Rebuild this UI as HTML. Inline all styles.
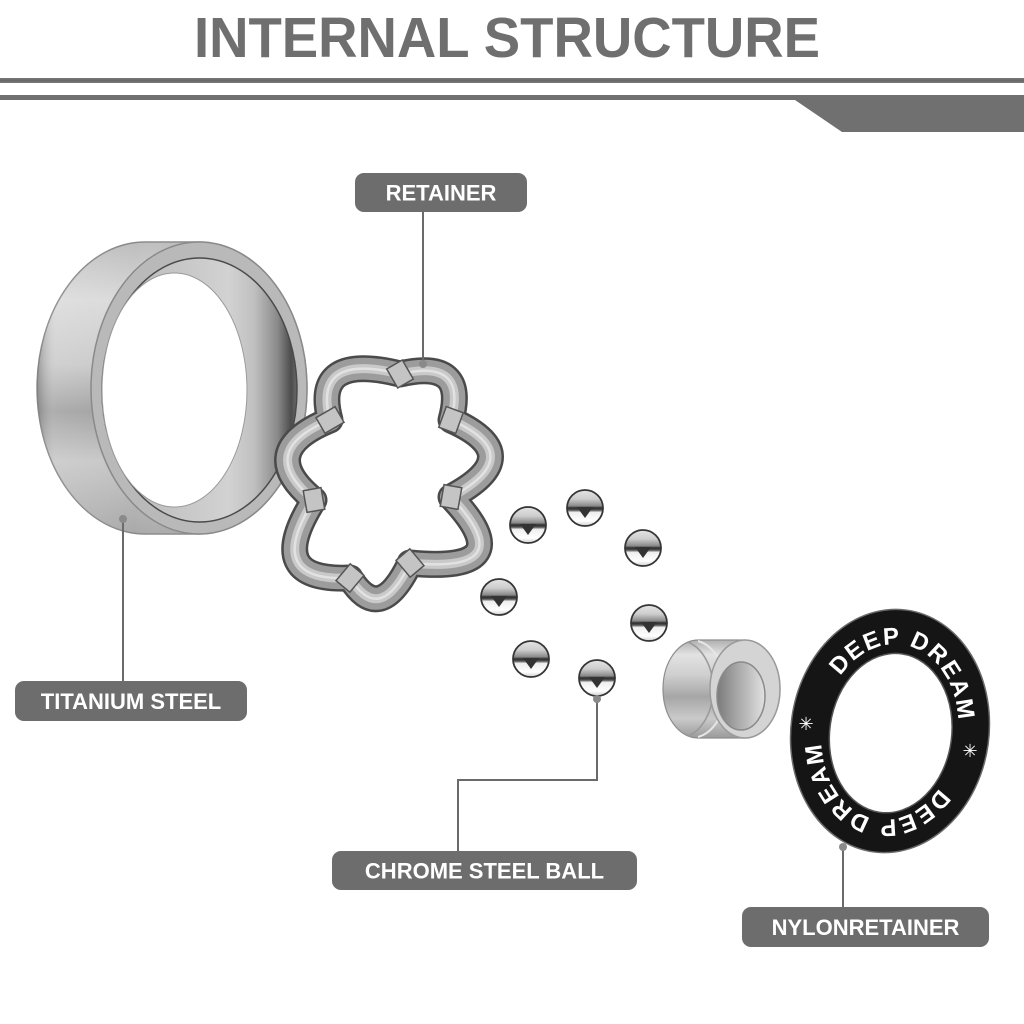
<!DOCTYPE html>
<html><head><meta charset="utf-8"><style>
html,body{margin:0;padding:0;background:#fff;}
svg{display:block;}
</style></head><body>
<svg width="1024" height="1024" viewBox="0 0 1024 1024" xmlns="http://www.w3.org/2000/svg">
<defs>
<linearGradient id="band" x1="0" y1="0" x2="0" y2="1">
<stop offset="0" stop-color="#bdbdbd"/><stop offset="0.2" stop-color="#dadada"/><stop offset="0.42" stop-color="#c8c8c8"/><stop offset="0.58" stop-color="#9e9e9e"/><stop offset="0.75" stop-color="#c6c6c6"/><stop offset="1" stop-color="#a9a9a9"/>
</linearGradient>
<linearGradient id="bandh" x1="37" y1="0" x2="200" y2="0" gradientUnits="userSpaceOnUse">
<stop offset="0" stop-color="#707070" stop-opacity="0.55"/><stop offset="0.12" stop-color="#ffffff" stop-opacity="0.15"/><stop offset="0.6" stop-color="#ffffff" stop-opacity="0"/><stop offset="1" stop-color="#808080" stop-opacity="0.2"/>
</linearGradient>
<linearGradient id="inner" x1="102" y1="0" x2="297" y2="0" gradientUnits="userSpaceOnUse">
<stop offset="0" stop-color="#b5b5b5"/><stop offset="0.65" stop-color="#d2d2d2"/><stop offset="0.78" stop-color="#c0c0c0"/><stop offset="0.9" stop-color="#8a8a8a"/><stop offset="0.97" stop-color="#4c4c4c"/><stop offset="1" stop-color="#6a6a6a"/>
</linearGradient>
<linearGradient id="ball" x1="0" y1="0" x2="0" y2="1">
<stop offset="0" stop-color="#e4e4e4"/><stop offset="0.25" stop-color="#cdcdcd"/><stop offset="0.44" stop-color="#8a8a8a"/><stop offset="0.5" stop-color="#2c2c2c"/><stop offset="0.56" stop-color="#555"/><stop offset="0.62" stop-color="#efefef"/><stop offset="0.86" stop-color="#ffffff"/><stop offset="1" stop-color="#cfcfcf"/>
</linearGradient>
<linearGradient id="bush" x1="0" y1="0" x2="0" y2="1">
<stop offset="0" stop-color="#b0b0b0"/><stop offset="0.15" stop-color="#e2e2e2"/><stop offset="0.35" stop-color="#d0d0d0"/><stop offset="0.58" stop-color="#a6a6a6"/><stop offset="0.8" stop-color="#cacaca"/><stop offset="1" stop-color="#9a9a9a"/>
</linearGradient>
<linearGradient id="bhole" x1="0" y1="0" x2="1" y2="0">
<stop offset="0" stop-color="#7a7a7a"/><stop offset="0.35" stop-color="#a0a0a0"/><stop offset="0.75" stop-color="#c8c8c8"/><stop offset="1" stop-color="#e2e2e2"/>
</linearGradient>
</defs>

<!-- Header -->
<text x="507" y="57" text-anchor="middle" font-family="Liberation Sans, Arial, sans-serif" font-weight="bold" font-size="57" fill="#6f6f6f" transform="translate(507 0) scale(0.957 1) translate(-507 0)">INTERNAL STRUCTURE</text>
<rect x="0" y="78" width="1024" height="5" fill="#767676"/>
<rect x="0" y="79.5" width="1024" height="2" fill="#686868"/>
<polygon points="0,95 1024,95 1024,132 842,132 795,100 0,100" fill="#707070"/>

<!-- Titanium steel outer ring -->
<path d="M145,242 L199,242 A108,146 0 0 1 199,534 L145,534 A108,146 0 0 1 145,242 Z" fill="url(#band)" stroke="#8a8a8a" stroke-width="1.5"/>
<path d="M145,242 L199,242 A108,146 0 0 1 199,534 L145,534 A108,146 0 0 1 145,242 Z" fill="url(#bandh)"/>
<ellipse cx="199" cy="388" rx="108" ry="146" fill="#b9b9b9" stroke="#8a8a8a" stroke-width="1.5"/>
<ellipse cx="199.5" cy="390" rx="97.5" ry="132" fill="url(#inner)" stroke="#4a4a4a" stroke-width="1.5"/>
<ellipse cx="174.5" cy="390" rx="72.5" ry="117" fill="#ffffff" stroke="#9a9a9a" stroke-width="1"/>

<!-- Retainer -->
<g fill="none" stroke-linecap="round" stroke-linejoin="round">
<path d="M330,420 Q312,352 400,374 Q468,358 451,420 Q530,455 451,497 Q524,574 410,563 Q380,626 350,578 Q262,582 314,500 Q254,451 330,420 Z" stroke="#4a4a4a" stroke-width="27"/>
<path d="M330,420 Q312,352 400,374 Q468,358 451,420 Q530,455 451,497 Q524,574 410,563 Q380,626 350,578 Q262,582 314,500 Q254,451 330,420 Z" stroke="#9c9c9c" stroke-width="22"/>
<path d="M330,420 Q312,352 400,374 Q468,358 451,420 Q530,455 451,497 Q524,574 410,563 Q380,626 350,578 Q262,582 314,500 Q254,451 330,420 Z" stroke="#c9c9c9" stroke-width="9"/>
<path d="M330,420 Q312,352 400,374 Q468,358 451,420 Q530,455 451,497 Q524,574 410,563 Q380,626 350,578 Q262,582 314,500 Q254,451 330,420 Z" stroke="#e2e2e2" stroke-width="2.5"/>
</g>
<g fill="#c4c4c4" stroke="#555" stroke-width="1.5">
<rect x="391" y="363" width="18" height="22" transform="rotate(-30 400 374)"/>
<rect x="442" y="409" width="18" height="22" transform="rotate(20 451 420)"/>
<rect x="442" y="486" width="18" height="22" transform="rotate(10 451 497)"/>
<rect x="401" y="552" width="18" height="22" transform="rotate(-40 410 563)"/>
<rect x="341" y="567" width="18" height="22" transform="rotate(40 350 578)"/>
<rect x="305" y="489" width="18" height="22" transform="rotate(-10 314 500)"/>
<rect x="321" y="409" width="18" height="22" transform="rotate(60 330 420)"/>
</g>

<!-- Balls -->
<g stroke="#353535" stroke-width="1.8" fill="url(#ball)">
<circle cx="528" cy="525" r="18"/>
<circle cx="585" cy="508" r="18"/>
<circle cx="643" cy="548" r="18"/>
<circle cx="499" cy="597" r="18"/>
<circle cx="649" cy="623" r="18"/>
<circle cx="531" cy="659" r="18"/>
<circle cx="597" cy="678" r="18"/>
</g>
<g fill="#333">
<polygon points="520,524 536,524 528,535"/>
<polygon points="577,507 593,507 585,518"/>
<polygon points="635,547 651,547 643,558"/>
<polygon points="491,596 507,596 499,607"/>
<polygon points="641,622 657,622 649,633"/>
<polygon points="523,658 539,658 531,669"/>
<polygon points="589,677 605,677 597,688"/>
</g>

<!-- Bushing -->
<path d="M698,640 L745,640 A35,49 0 0 1 745,738 L698,738 A35,49 0 0 1 698,640 Z" fill="url(#bush)" stroke="#8e8e8e" stroke-width="1.2"/>
<path d="M688,642 A35,49 0 0 1 688,736" fill="none" stroke="#999" stroke-width="1.5"/>
<path d="M698,641 A35,49 0 0 1 698,737" fill="none" stroke="#e6e6e6" stroke-width="2"/>
<ellipse cx="745" cy="689" rx="35" ry="49" fill="#d4d4d4" stroke="#9a9a9a" stroke-width="1.5"/>
<ellipse cx="741" cy="696" rx="24" ry="34" fill="url(#bhole)" stroke="#8a8a8a" stroke-width="1.5"/>

<!-- Nylon retainer -->
<g transform="rotate(8 890 731)">
<ellipse cx="890" cy="731" rx="99" ry="122" fill="#151515" stroke="#6a6a6a" stroke-width="1.5"/>
<ellipse cx="891" cy="733" rx="61" ry="80" fill="#ffffff" stroke="#555" stroke-width="1.5"/>
<path id="tp" d="M822,732 A68,88 0 0 1 958,732 A68,88 0 0 1 822,732 Z" fill="none"/>
<text font-family="Liberation Sans, DejaVu Sans, sans-serif" font-weight="bold" font-size="24" fill="#ffffff"><textPath href="#tp" startOffset="50" textLength="174" lengthAdjust="spacing">DEEP DREAM</textPath></text>
<text font-family="Liberation Sans, DejaVu Sans, sans-serif" font-weight="bold" font-size="24" fill="#ffffff"><textPath href="#tp" startOffset="296" textLength="174" lengthAdjust="spacing">DEEP DREAM</textPath></text>
</g>
<text x="806" y="730" text-anchor="middle" font-family="DejaVu Sans, sans-serif" font-size="18" fill="#ffffff">✳</text>
<text x="970" y="757" text-anchor="middle" font-family="DejaVu Sans, sans-serif" font-size="18" fill="#ffffff">✳</text>

<!-- Connectors -->
<g stroke="#6a6a6a" stroke-width="2" fill="none">
<line x1="423" y1="212" x2="423" y2="363"/>
<line x1="123" y1="520" x2="123" y2="681"/>
<polyline points="458,851 458,780 597,780 597,700"/>
<line x1="843" y1="847" x2="843" y2="907"/>
</g>
<g fill="#8a8a8a">
<circle cx="423" cy="364" r="4"/>
<circle cx="123" cy="519" r="4"/>
<circle cx="597" cy="699" r="4"/>
<circle cx="843" cy="847" r="4"/>
</g>

<!-- Labels -->
<g fill="#6d6d6d">
<rect x="355" y="173" width="172" height="39" rx="9"/>
<rect x="15" y="681" width="232" height="40" rx="9"/>
<rect x="332" y="851" width="305" height="39" rx="9"/>
<rect x="742" y="907" width="247" height="40" rx="9"/>
</g>
<g fill="#ffffff" font-family="Liberation Sans, Arial, sans-serif" font-weight="bold" font-size="22" text-anchor="middle">
<text x="441" y="200.5">RETAINER</text>
<text x="131" y="709">TITANIUM STEEL</text>
<text x="484.5" y="878.5">CHROME STEEL BALL</text>
<text x="865.5" y="935">NYLONRETAINER</text>
</g>
</svg>
</body></html>
